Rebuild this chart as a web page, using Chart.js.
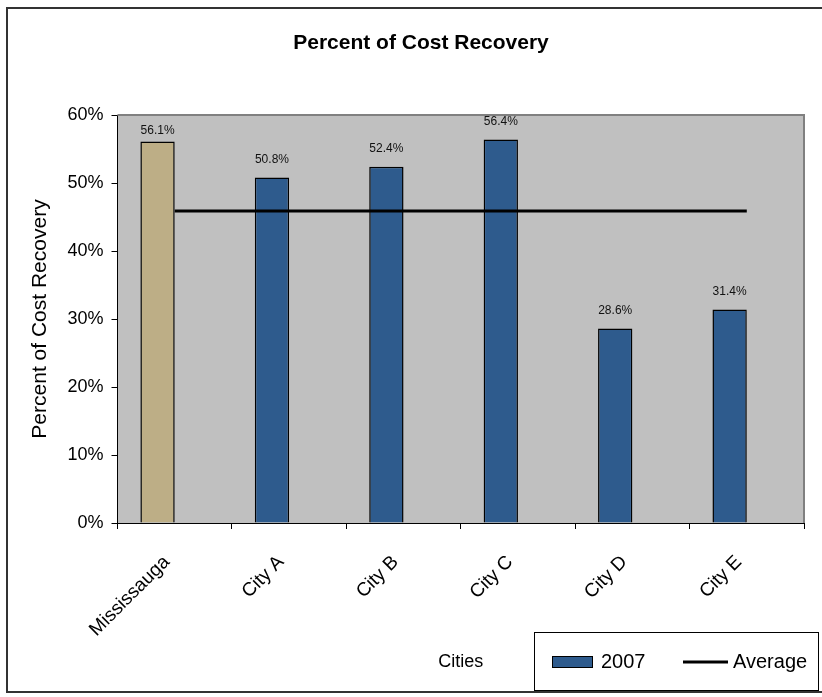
<!DOCTYPE html>
<html>
<head>
<meta charset="utf-8">
<script src="https://cdn.jsdelivr.net/npm/chart.js@4.4.1/dist/chart.umd.min.js"></script>
<style>
  html, body { margin: 0; padding: 0; background: #ffffff; }
  canvas { display: block; }
</style>
</head>
<body>
<canvas id="c" width="822" height="697"></canvas>
<script>
// ---- data ----
const categories = ['Mississauga', 'City A', 'City B', 'City C', 'City D', 'City E'];
const mississaugaValues = [56.1, null, null, null, null, null];
const cityValues2007 = [null, 50.8, 52.4, 56.4, 28.6, 31.4];
const averageValues = [45.9, 45.9, 45.9, 45.9, 45.9, 45.9];
const emptySlot = [null, null, null, null, null, null];
const yTicks = [0, 10, 20, 30, 40, 50, 60];
const chartTitle = 'Percent of Cost Recovery';

const FONT = 'Arial, "Liberation Sans", sans-serif';
const BLUE = '#2E5B8D';
const TAN = '#BDAE86';

const decor = {
  id: 'decor',
  beforeDraw(chart) {
    const { ctx, chartArea: a } = chart;
    ctx.save();
    ctx.fillStyle = '#C0C0C0';
    ctx.fillRect(a.left, a.top, a.right - a.left, a.bottom - a.top);
    ctx.restore();
  },
  beforeDatasetsDraw(chart) {
    const { ctx, chartArea: a } = chart;
    ctx.save();
    ctx.strokeStyle = '#808080';
    ctx.lineWidth = 2;
    ctx.beginPath();
    ctx.moveTo(a.left, a.top);
    ctx.lineTo(a.right, a.top);
    ctx.lineTo(a.right, a.bottom);
    ctx.stroke();
    ctx.restore();
  },
  afterDraw(chart) {
    const { ctx } = chart;
    ctx.save();
    // title
    ctx.fillStyle = '#000';
    ctx.font = 'bold 21px ' + FONT;
    ctx.textAlign = 'center';
    ctx.textBaseline = 'middle';
    ctx.fillText(chartTitle, 421, 43);
    // outer chart border
    ctx.strokeStyle = '#333333';
    ctx.lineWidth = 2;
    ctx.strokeRect(7, 8, 830, 684);
    // legend box
    ctx.strokeStyle = '#000000';
    ctx.lineWidth = 1;
    ctx.strokeRect(534.5, 632.5, 284, 58);
    // 2007 swatch
    const ds = chart.data.datasets[2];
    ctx.fillStyle = ds.backgroundColor;
    ctx.fillRect(552, 656, 41, 12);
    ctx.strokeRect(552.5, 656.5, 40, 11);
    ctx.fillStyle = '#000';
    ctx.font = '20px ' + FONT;
    ctx.textBaseline = 'middle';
    ctx.textAlign = 'left';
    ctx.fillText(ds.label, 601, 662);
    // Average line
    const ls = chart.data.datasets[0];
    ctx.strokeStyle = ls.borderColor;
    ctx.lineWidth = 3;
    ctx.beginPath();
    ctx.moveTo(683, 662);
    ctx.lineTo(728, 662);
    ctx.stroke();
    ctx.fillText(ls.label, 733, 662);
    ctx.restore();
  }
};

const barLabels = {
  id: 'barLabels',
  afterDatasetsDraw(chart) {
    const { ctx } = chart;
    ctx.save();
    ctx.font = '12px ' + FONT;
    ctx.fillStyle = '#111';
    ctx.textAlign = 'center';
    ctx.textBaseline = 'middle';
    chart.data.datasets.forEach((ds, di) => {
      if (ds.type !== 'bar' || ds.labelGap === undefined) return;
      const meta = chart.getDatasetMeta(di);
      meta.data.forEach((el, i) => {
        const v = ds.data[i];
        if (v === null || v === undefined) return;
        ctx.fillText(v.toFixed(1) + '%', el.x, el.y - ds.labelGap);
      });
    });
    ctx.restore();
  }
};

new Chart(document.getElementById('c'), {
  data: {
    labels: categories,
    datasets: [
      {
        type: 'line', label: 'Average', data: averageValues,
        borderColor: '#000000', borderWidth: 3, pointRadius: 0, fill: false
      },
      {
        type: 'bar', label: 'Mississauga', data: mississaugaValues, stack: 's1',
        backgroundColor: TAN, borderColor: '#000', borderWidth: 1.5, labelGap: 11
      },
      {
        type: 'bar', label: '2007', data: cityValues2007, stack: 's1',
        backgroundColor: BLUE, borderColor: '#000', borderWidth: 1.5, labelGap: 18
      },
      {
        type: 'bar', label: '', data: emptySlot, stack: 's2',
        backgroundColor: 'rgba(0,0,0,0)'
      }
    ]
  },
  options: {
    responsive: false,
    animation: false,
    layout: { padding: { left: 0, right: 18, top: 115, bottom: 0 } },
    datasets: { bar: { categoryPercentage: 0.6, barPercentage: 1.0 } },
    plugins: {
      legend: { display: false },
      tooltip: { enabled: false },
      title: { display: false }
    },
    scales: {
      x: {
        grid: { drawOnChartArea: false, drawTicks: true, tickLength: 6, color: '#000' },
        border: { display: true, color: '#000', width: 1 },
        ticks: {
          autoSkip: false, minRotation: 45, maxRotation: 45, padding: 22, labelOffset: -8,
          color: '#000', font: { family: FONT, size: 19 }
        },
        title: {
          display: true, text: 'Cities', color: '#000',
          font: { family: FONT, size: 18 }, padding: { top: 0, bottom: 24.2 }
        },
        afterFit(s) { s.height = 174; }
      },
      y: {
        min: 0, max: 60,
        afterBuildTicks(s) { s.ticks = yTicks.map(v => ({ value: v })); },
        grid: { drawOnChartArea: false, drawTicks: true, tickLength: 6, color: '#000' },
        border: { display: true, color: '#000', width: 1 },
        ticks: {
          padding: 8, color: '#000', font: { family: FONT, size: 18 },
          callback: (v) => v + '%'
        },
        title: {
          display: true, text: 'Percent of Cost Recovery', color: '#000',
          font: { family: FONT, size: 21 }, padding: { top: 27.4, bottom: 0 }
        },
        afterFit(s) { s.width = 117.5; }
      }
    }
  },
  plugins: [decor, barLabels]
});
</script>
</body>
</html>
